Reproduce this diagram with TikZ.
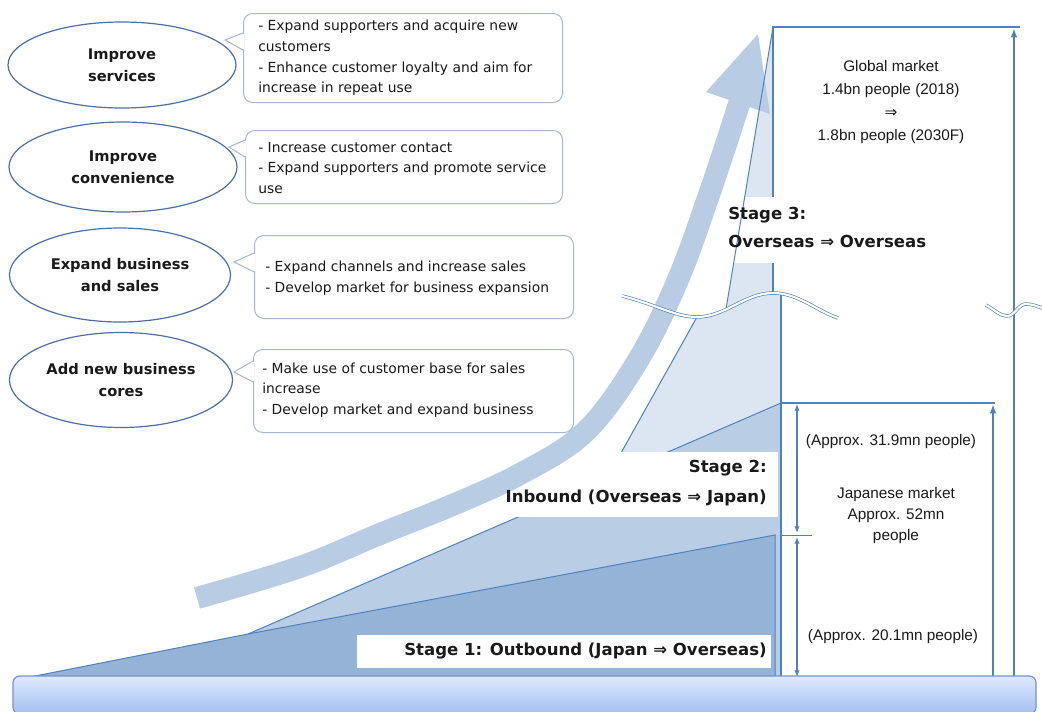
\documentclass[tikz,border=0pt]{standalone}
\usepackage{fontspec}
\setmainfont{DejaVu Sans}
\newfontfamily\mktfont{Liberation Sans}
\newfontfamily\symfont{DejaVu Sans}
\usetikzlibrary{shapes.geometric,arrows.meta}
\definecolor{sOne}{HTML}{95B3D7}
\definecolor{sTwo}{HTML}{B9CDE5}
\definecolor{sThree}{HTML}{DCE6F2}
\definecolor{arrowc}{HTML}{B8CCE4}
\definecolor{lineb}{HTML}{4F81BD}
\definecolor{ellb}{HTML}{4A6FA5}
\definecolor{boxb}{HTML}{A3B7D5}
\definecolor{baseTop}{HTML}{DFEAFB}
\definecolor{baseBot}{HTML}{A2C0F2}
\definecolor{baseEdge}{HTML}{6E95CF}
\definecolor{txt}{HTML}{1A1A1A}
\tikzset{
  ellnode/.style={ellipse, draw=ellb, line width=0.9pt, fill=white, align=center, inner sep=0pt,
    text=txt, font=\bfseries\fontsize{11}{16.5}\selectfont},
  boxframe/.style={draw=boxb, line width=0.75pt, rounded corners=7pt, fill=white, inner sep=0pt},
  boxedge/.style={draw=boxb, line width=0.75pt},
  boxtext/.style={align=left, anchor=west, inner sep=0pt, text=txt, font=\fontsize{10.4}{15.5}\selectfont},
  stagetext/.style={inner sep=0pt, text=txt, font=\bfseries\fontsize{12.4}{21}\selectfont},
  mkttext/.style={align=center, inner sep=0pt, text=txt, font=\mktfont\fontsize{11.5}{17.25}\selectfont},
  stageline/.style={draw=lineb, line width=0.75pt},
  mktline/.style={draw=lineb, line width=0.9pt},
  mktarrow/.style={draw=lineb, line width=1.5pt, -{Latex[length=7pt,width=5pt]}},
  dimarrow/.style={draw=lineb, line width=0.9pt, {Latex[length=5pt,width=4pt]}-{Latex[length=5pt,width=4pt]}},
  breakline/.style={draw=lineb, line width=0.5pt, double=white, double distance=1.6pt},
}
\begin{document}
\begin{tikzpicture}[x=0.75pt,y=-0.75pt]
\useasboundingbox (0,0) rectangle (1042,711);
\fill[white] (0,0) rectangle (1042,711);

% stage fills
\fill[sTwo] (248,634) -- (781,403) -- (781,677) -- (248,677) -- cycle;
\fill[sThree] (607,478) -- (697,317) .. controls (725,317) and (745,293) .. (773,293) -- (781,294) -- (781,403) -- cycle;
\fill[sThree] (726,309) -- (773,27) -- (773,296) -- cycle;
\fill[sOne] (30,677) -- (248,634) -- (775,535) -- (775,677) -- cycle;

% stage outlines
\draw[stageline] (30,677) -- (248,634) -- (775,535) -- (775,677);
\draw[stageline] (248,634) -- (781,403);
\draw[stageline] (607,478) -- (697,317);

% market frame
\coordinate (topL) at (773,27);
\coordinate (topR) at (1020,27);
\coordinate (jpL) at (781,403);
\coordinate (jpR) at (995,403);
\coordinate (mid) at (781,535);
\draw[mktline] (773,294) -- (topL) -- (topR);
\draw[mktline] (781,294) -- (781,677);
\draw[mktline] (jpL) -- (jpR);
\draw[draw=lineb, line width=0.75pt] (mid) -- (812,535);
\draw[mktarrow] (1014,677) -- (1014,28);
\draw[mktarrow] (993,677) -- (993,404);
\draw[dimarrow] (797,404) -- (797,533);
\draw[dimarrow] (797,537) -- (797,677);

% label bands
\fill[white] (357,635) rectangle (771,668);
\fill[white] (483,452) rectangle (778,517);
\fill[white] (715,197) rectangle (960,263);

% growth arrow
\draw[arrowc, line width=16.5pt] plot[smooth, tension=0.6] coordinates {(197,598) (300,567) (380,534) (450,506) (520,474) (585,432) (637,362) (677,282) (710,192) (741,98)};
\fill[arrowc] (706,92) -- (758,34) -- (770,114) -- cycle;
\draw[stageline] (726,309) -- (773,27);

% break marks
\draw[breakline] (622,296) .. controls (655,304) and (675,317) .. (697,317) .. controls (725,317) and (745,293) .. (773,293) .. controls (798,293) and (815,310) .. (838,318);
\draw[breakline] (986,305) .. controls (995,310) and (1000,316) .. (1007,316) .. controls (1015,316) and (1018,304) .. (1026,304) .. controls (1033,304) and (1038,307) .. (1046,309);

% stage labels
\node[stagetext, anchor=east] (s1) at (767,651) {Stage 1: Outbound (Japan ⇒ Overseas)};
\node[stagetext, align=right, anchor=east, font=\bfseries\fontsize{12.4}{22.5}\selectfont] (s2) at (767,483) {Stage 2:\\Inbound (Overseas ⇒ Japan)};
\node[stagetext, align=left, anchor=west, font=\bfseries\fontsize{12.4}{20.5}\selectfont] (s3) at (728,227.5) {Stage 3:\\Overseas ⇒ Overseas};

% market labels
\node[mkttext] (glob) at (891,102.5) {Global market\\1.4bn people (2018)\\{\symfont ⇒}\\1.8bn people (2030F)};
\node[mkttext] (j1) at (891,442) {(Approx. 31.9mn people)};
\node[mkttext, font=\mktfont\fontsize{11.5}{15.75}\selectfont] (jp) at (896,516) {Japanese market\\Approx. 52mn\\people};
\node[mkttext] (j2) at (893,637) {(Approx. 20.1mn people)};

% ellipses
\node[ellnode, minimum width=228*0.75pt, minimum height=86*0.75pt] (e1) at (122,65) {Improve\\services};
\node[ellnode, minimum width=228*0.75pt, minimum height=90*0.75pt] (e2) at (123,167) {Improve\\convenience};
\node[ellnode, minimum width=221*0.75pt, minimum height=94*0.75pt] (e3) at (120,275) {Expand business\\and sales};
\node[ellnode, minimum width=223*0.75pt, minimum height=95*0.75pt] (e4) at (121,380) {Add new business\\cores};

% callout boxes
\node[boxframe, anchor=north west, minimum width=319*0.75pt, minimum height=89*0.75pt] (b1) at (243,13) {};
\fill[white] (244,33.8) -- (225,40) -- (244,49.2) -- cycle;
\draw[boxedge] (243,33) -- (225,40) -- (243,50);
\node[boxtext] (t1) at (258,58) {- Expand supporters and acquire new\\customers\\- Enhance customer loyalty and aim for\\increase in repeat use};

\node[boxframe, anchor=north west, minimum width=317*0.75pt, minimum height=73*0.75pt] (b2) at (245,130) {};
\fill[white] (246,140.8) -- (229,147) -- (246,156.2) -- cycle;
\draw[boxedge] (245,140) -- (229,147) -- (245,157);
\node[boxtext] (t2) at (258,168) {- Increase customer contact\\- Expand supporters and promote service\\use};

\node[boxframe, anchor=north west, minimum width=319*0.75pt, minimum height=83*0.75pt] (b3) at (254,235) {};
\fill[white] (255,253.8) -- (234,262) -- (255,271.2) -- cycle;
\draw[boxedge] (254,253) -- (234,262) -- (254,272);
\node[boxtext] (t3) at (265,278) {- Expand channels and increase sales\\- Develop market for business expansion};

\node[boxframe, anchor=north west, minimum width=320*0.75pt, minimum height=83*0.75pt] (b4) at (253,349) {};
\fill[white] (254,361.8) -- (234,372) -- (254,381.2) -- cycle;
\draw[boxedge] (253,361) -- (234,372) -- (253,382);
\node[boxtext] (t4) at (262,390) {- Make use of customer base for sales\\increase\\- Develop market and expand business};

% base bar
\draw[draw=baseEdge, line width=0.9pt, top color=baseTop, bottom color=baseBot, rounded corners=5pt] (13,676) rectangle (1036,714);
\end{tikzpicture}
\end{document}
